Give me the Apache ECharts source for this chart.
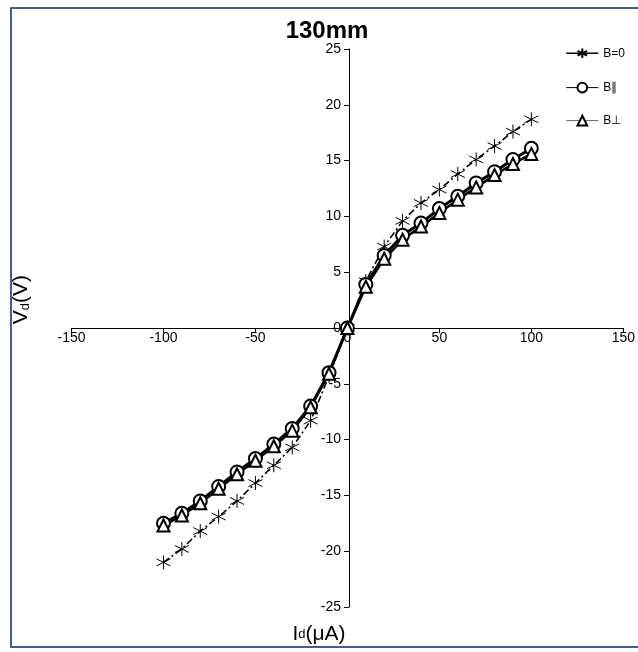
<!DOCTYPE html>
<html>
<head>
<meta charset="utf-8">
<script src="https://cdn.jsdelivr.net/npm/echarts@6/dist/echarts.min.js"></script>
<style>
html,body{margin:0;padding:0;background:#fff;}
#c{width:638px;height:652px;}
</style>
</head>
<body>
<div id="c"></div>
<script>
const currentUA = [-100,-90,-80,-70,-60,-50,-40,-30,-20,-10,0,10,20,30,40,50,60,70,80,90,100];
const vB0 =    [-21.0,-19.8,-18.2,-16.9,-15.5,-13.9,-12.3,-10.7,-8.3,-4.3,0,4.2,7.3,9.6,11.2,12.4,13.8,15.1,16.3,17.6,18.7];
const vBpar =  [-17.5,-16.6,-15.5,-14.2,-12.9,-11.7,-10.4,-9.0,-7.0,-4.0,0,3.9,6.5,8.3,9.4,10.7,11.8,13.0,14.0,15.1,16.1];
const vBperp = [-17.7,-16.8,-15.7,-14.4,-13.1,-11.9,-10.6,-9.2,-7.1,-4.1,0,3.7,6.2,7.9,9.1,10.3,11.5,12.6,13.7,14.7,15.6];
const seriesNames = ['B=0','B\u2225','B\u22a5'];
const titleText = '130mm';

const pairs = (ys) => currentUA.map((x,i)=>[x, ys[i]]);
const FONT = 'Liberation Sans, Arial, sans-serif';
const asterisk = 'path://M5,0L5,10M0.7,2.5L9.3,7.5M9.3,2.5L0.7,7.5';

const GL = 71.5, GR = 11.5, GT = 49, GB = 45;
const W = 638, H = 652;
const gridW = W - GL - GR, gridH = H - GT - GB;

const chart = echarts.init(document.getElementById('c'));
chart.setOption({
  backgroundColor: '#fff',
  animation: false,
  title: {
    text: titleText, left: 322, top: 14, textAlign: 'center',
    textStyle: {fontFamily: FONT, fontSize: 24, fontWeight: 'bold', color: '#000'}
  },
  legend: {
    orient: 'vertical', right: 8, top: 41, itemGap: 21,
    itemWidth: 32, itemHeight: 12,
    textStyle: {fontFamily: FONT, fontSize: 12, color: '#000'},
    data: [
      {name: seriesNames[0], lineStyle: {type: 'solid', width: 1.5, color: '#000'}},
      {name: seriesNames[1], lineStyle: {type: 'solid', width: 1, color: '#000'}},
      {name: seriesNames[2], lineStyle: {type: 'solid', width: 1, color: '#666'}}
    ]
  },
  grid: {left: GL, right: GR, top: GT, bottom: GB, containLabel: false},
  xAxis: {
    type: 'value', min: -150, max: 150, interval: 50,
    position: 'bottom', offset: -gridH / 2,
    axisLine: {onZero: false, lineStyle: {color: '#000', width: 1}},
    axisTick: {show: true, length: 5, lineStyle: {color: '#000'}},
    axisLabel: {margin: 3, fontFamily: FONT, fontSize: 14, color: '#000'},
    splitLine: {show: false}
  },
  yAxis: {
    type: 'value', min: -25, max: 25, interval: 5,
    position: 'left', offset: -gridW / 2,
    axisLine: {onZero: false, lineStyle: {color: '#000', width: 1}},
    axisTick: {show: true, length: 5, lineStyle: {color: '#000'}},
    axisLabel: {margin: 8, fontFamily: FONT, fontSize: 14, color: '#000'},
    splitLine: {show: false}
  },
  graphic: [
    {type: 'rect', silent: true, z: 100,
      shape: {x: 11, y: 8, width: 680, height: 639},
      style: {fill: 'none', stroke: '#3f5f8f', lineWidth: 2}},
    {type: 'text', z: 100, left: 11, top: 275, rotation: Math.PI/2,
      style: {
        text: '{a|V}{b|d}{a|(V)}',
        rich: {
          a: {fontFamily: FONT, fontSize: 21, color: '#000'},
          b: {fontFamily: FONT, fontSize: 13, color: '#000', verticalAlign: 'bottom', padding: [6,0,0,0]}
        }
      }},
    {type: 'text', z: 100, left: 'center', top: 624,
      style: {
        text: '{a|I}{b|d}{a|(\u03bcA)}',
        rich: {
          a: {fontFamily: FONT, fontSize: 21, color: '#000'},
          b: {fontFamily: FONT, fontSize: 13, color: '#000'}
        }
      }}
  ],
  series: [
    {
      name: seriesNames[0], type: 'line', data: pairs(vB0),
      symbol: asterisk, symbolSize: 14,
      itemStyle: {color: 'none', borderColor: '#000', borderWidth: 1},
      lineStyle: {color: '#000', width: 1.6, type: [7,3,2,3]},
      z: 3
    },
    {
      name: seriesNames[1], type: 'line', data: pairs(vBpar),
      symbol: 'emptyCircle', symbolSize: 13,
      itemStyle: {color: '#000', borderColor: '#000', borderWidth: 1},
      lineStyle: {color: '#000', width: 3},
      z: 4
    },
    {
      name: seriesNames[2], type: 'line', data: pairs(vBperp),
      symbol: 'emptyTriangle', symbolSize: 12,
      itemStyle: {color: '#000', borderColor: '#000', borderWidth: 1},
      lineStyle: {color: '#000', width: 2.5},
      z: 4
    }
  ]
});
</script>
</body>
</html>
